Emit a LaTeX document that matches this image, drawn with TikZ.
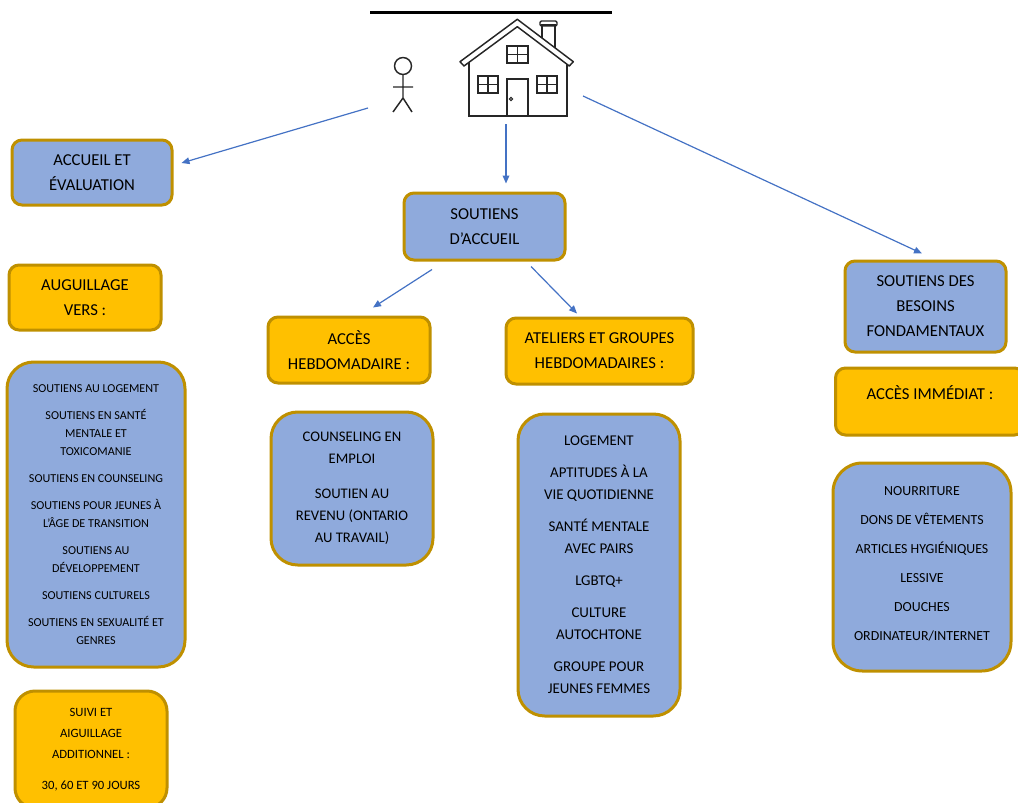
\documentclass[tikz,border=0pt]{standalone}
\usepackage{fontspec}
\setmainfont{Carlito}
\usetikzlibrary{arrows.meta, calc, positioning}
\definecolor{boxblue}{HTML}{8FAADC}
\definecolor{boxorange}{HTML}{FFC000}
\definecolor{boxedge}{HTML}{BF9000}
\definecolor{arrowblue}{HTML}{4472C4}
\def\px{0.75pt}
\def\fs#1#2{\fontsize{#1}{#2}\selectfont}

\begin{document}
\begin{tikzpicture}[x=0.75pt,y=-0.75pt,
  boite/.style={draw=boxedge,line width=2.25pt,rounded corners=7.5pt,align=center,inner sep=0pt,text=black},
  bluebox/.style={boite,fill=boxblue},
  orangebox/.style={boite,fill=boxorange},
  listbox/.style={bluebox,rounded corners=20pt},
  arr/.style={arrowblue,line width=0.9pt,-{Triangle[length=6pt,width=5pt]}}]
\useasboundingbox (0,0) rectangle (1018,803);
\draw[line width=2.25pt] (370,12) -- (612,12);
% bonhomme
\draw[black!85,line width=1.1pt] (403,66) circle (8.5);
\draw[black!85,line width=1.1pt] (403,74.5) -- (403,98) (393,87) -- (413,87) (393,112) -- (403,98) -- (412,112);
% maison
\draw[black!85,line width=1.1pt,fill=white] (542,38) -- (542,25) -- (555,25) -- (555,47.8);
\draw[black!85,line width=1.1pt,rounded corners=1pt] (540,21) rectangle (557,26);
\draw[black!85,line width=1.1pt,line join=round] (460,61.7) -- (517.3,19.3) -- (573.3,61.7) -- (569.3,66) -- (517.3,26.7) -- (464,66) -- cycle;
\draw[black!85,line width=1.1pt] (469,62.3) -- (469,116) -- (567,116) -- (567,64.3);
\draw[black!85,line width=1.1pt] (507,46) rectangle (528,63) (517.5,46) -- (517.5,63) (507,54.5) -- (528,54.5);
\draw[black!85,line width=1.1pt] (478,76) rectangle (498,93) (488,76) -- (488,93) (478,84.5) -- (498,84.5);
\draw[black!85,line width=1.1pt] (537,76) rectangle (557,93) (547,76) -- (547,93) (537,84.5) -- (557,84.5);
\draw[black!85,line width=1.1pt] (507,116) -- (507,79) -- (528,79) -- (528,116);
\draw[black!85,line width=0.8pt] (511,99) circle (1.6);
\coordinate (depart1) at (368,108);
\coordinate (depart2) at (506,124);
\coordinate (depart3) at (583,96);

\node[bluebox,minimum width=160*\px,minimum height=65*\px,font=\fs{12.5}{18.75}] (accueil) at (92,172.5) {ACCUEIL ET\\ÉVALUATION};
\node[orangebox,minimum width=152*\px,minimum height=65*\px,font=\fs{12.5}{18.75}] (aiguillage) at (85,297.5) {AUGUILLAGE\\VERS :};
\node[listbox,minimum width=178*\px,minimum height=305*\px,font=\fs{9.1}{13.5}] (services) at (96,514.5) {SOUTIENS AU LOGEMENT\\[6.75pt]SOUTIENS EN SANTÉ\\MENTALE ET\\TOXICOMANIE\\[6.75pt]SOUTIENS EN COUNSELING\\[6.75pt]SOUTIENS POUR JEUNES À\\L’ÂGE DE TRANSITION\\[6.75pt]SOUTIENS AU\\DÉVELOPPEMENT\\[6.75pt]SOUTIENS CULTURELS\\[6.75pt]SOUTIENS EN SEXUALITÉ ET\\GENRES};
\node[orangebox,rounded corners=15pt,minimum width=152*\px,minimum height=117*\px,font=\fs{9.5}{15.75}] (suivi) at (91,749.5) {SUIVI ET\\AIGUILLAGE\\ADDITIONNEL :\\[7.5pt]30, 60 ET 90 JOURS};

\node[bluebox,minimum width=161*\px,minimum height=67*\px,font=\fs{12.5}{18.75}] (soutiens) at (484.5,226.5) {SOUTIENS\\D’ACCUEIL};
\node[orangebox,minimum width=162*\px,minimum height=66*\px,font=\fs{12.5}{18.75}] (hebdo) at (349,350) {ACCÈS\\HEBDOMADAIRE :};
\node[orangebox,minimum width=187*\px,minimum height=66*\px,font=\fs{12.5}{18.75}] (ateliers) at (599.5,351) {ATELIERS ET GROUPES\\HEBDOMADAIRES :};
\node[listbox,minimum width=162*\px,minimum height=153*\px,font=\fs{11}{16.5}] (emploi) at (352,488.5) {COUNSELING EN\\EMPLOI\\[9.75pt]SOUTIEN AU\\REVENU (ONTARIO\\AU TRAVAIL)};
\node[listbox,minimum width=162*\px,minimum height=302*\px,font=\fs{11.2}{16.5}] (groupes) at (599,565) {LOGEMENT\\[7.5pt]APTITUDES À LA\\VIE QUOTIDIENNE\\[7.5pt]SANTÉ MENTALE\\AVEC PAIRS\\[7.5pt]LGBTQ+\\[7.5pt]CULTURE\\AUTOCHTONE\\[7.5pt]GROUPE POUR\\JEUNES FEMMES};

\node[bluebox,minimum width=161*\px,minimum height=91*\px,font=\fs{12.5}{18.75}] (besoins) at (925.5,306.5) {SOUTIENS DES\\BESOINS\\FONDAMENTAUX};
\node[orangebox,minimum width=189*\px,minimum height=67*\px,font=\fs{12.5}{18.75},text height=10.5pt,text depth=13pt] (immediat) at (930,401.5) {ACCÈS IMMÉDIAT :};
\node[listbox,rounded corners=22pt,minimum width=178*\px,minimum height=208*\px,font=\fs{10.4}{21.75}] (essentiels) at (922,567) {NOURRITURE\\DONS DE VÊTEMENTS\\ARTICLES HYGIÉNIQUES\\LESSIVE\\DOUCHES\\ORDINATEUR/INTERNET\\[-15.75pt]};

\draw[arr] (depart1) -- ([shift={(8,-9.5)}]accueil.east);
\draw[arr] (depart2) -- ([shift={(21.5,-8)}]soutiens.north);
\draw[arr] (depart3) -- ([shift={(-3.5,-6)}]besoins.north);
\draw[arr] ([shift={(-52.5,8)}]soutiens.south) -- ([shift={(24,-8)}]hebdo.north);
\draw[arr] ([shift={(46.5,5)}]soutiens.south) -- ([shift={(-22.5,-3)}]ateliers.north);
\end{tikzpicture}
\end{document}
